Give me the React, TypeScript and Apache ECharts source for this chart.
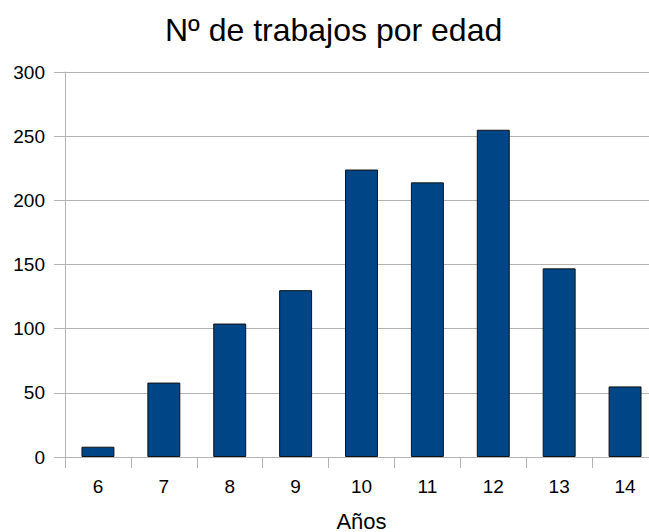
import React, { useEffect, useRef } from "react";
import * as echarts from "echarts";

const categories = ["6", "7", "8", "9", "10", "11", "12", "13", "14"];
const trabajos = [8, 58, 104, 130, 224, 214, 255, 147, 55];
const yTicks = [0, 50, 100, 150, 200, 250, 300];

export default function App() {
  const ref = useRef<HTMLDivElement>(null);
  useEffect(() => {
    const chart = echarts.init(ref.current!, null, { renderer: "svg" });
    const font = "'Liberation Sans', Arial, sans-serif";
    chart.setOption({
      animation: false,
      backgroundColor: "#ffffff",
      title: {
        text: "Nº de trabajos por edad",
        left: 160,
        top: 9,
        textStyle: { fontFamily: font, fontSize: 32, fontWeight: "normal", color: "#000000" },
      },
      grid: { left: 65, right: -9, top: 72, bottom: 75, containLabel: false, outerBoundsMode: "none" },
      xAxis: {
        type: "category",
        data: categories,
        name: "Años",
        nameLocation: "middle",
        nameGap: 53,
        nameTextStyle: { fontFamily: font, fontSize: 22, color: "#000000" },
        axisLine: { show: true, lineStyle: { color: "#b3b3b3" } },
        axisTick: { show: true, length: 11, alignWithLabel: false, lineStyle: { color: "#b3b3b3" } },
        axisLabel: { fontFamily: font, fontSize: 19, color: "#000000", margin: 20 },
      },
      yAxis: {
        type: "value",
        min: yTicks[0],
        max: yTicks[yTicks.length - 1],
        interval: 50,
        axisLine: { show: true, lineStyle: { color: "#b3b3b3" } },
        axisTick: { show: true, length: 11, lineStyle: { color: "#b3b3b3" } },
        splitLine: { show: true, lineStyle: { color: "#b3b3b3" } },
        axisLabel: { fontFamily: font, fontSize: 19, color: "#000000", margin: 20 },
      },
      series: [
        {
          type: "bar",
          data: trabajos,
          barWidth: "50%",
          itemStyle: { color: "#004586", borderColor: "#111111", borderWidth: 1 },
        },
      ],
    });
    return () => chart.dispose();
  }, []);
  return <div ref={ref} style={{ width: 649, height: 532, position: "absolute", left: 0, top: 0 }} />;
}
